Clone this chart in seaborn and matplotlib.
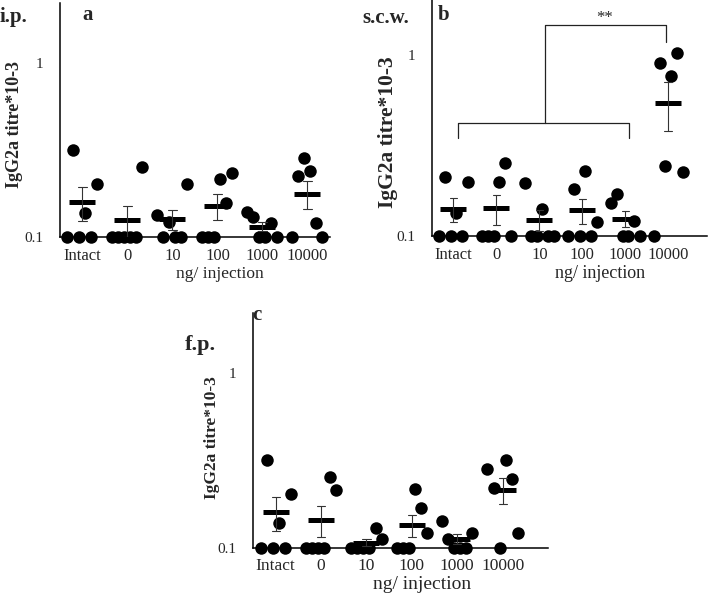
import matplotlib
matplotlib.use("Agg")
import matplotlib.pyplot as plt
import pandas as pd
import seaborn as sns
from matplotlib.ticker import NullLocator

doses = ["Intact", "0", "10", "100", "1000", "10000"]

# titre per mouse, listed in the left-to-right order of the dots
ip_titres = [
    [0.1, 0.316, 0.1, 0.137, 0.1, 0.202],
    [0.1, 0.1, 0.1, 0.1, 0.1, 0.252],
    [0.133, 0.1, 0.122, 0.1, 0.1, 0.202],
    [0.1, 0.1, 0.1, 0.215, 0.157, 0.233],
    [0.139, 0.130, 0.1, 0.1, 0.120, 0.1],
    [0.1, 0.224, 0.284, 0.239, 0.120, 0.1],
]
scw_titres = [
    [0.1, 0.212, 0.1, 0.134, 0.1, 0.199],
    [0.1, 0.1, 0.1, 0.199, 0.253, 0.1],
    [0.196, 0.1, 0.1, 0.141, 0.1, 0.1],
    [0.1, 0.182, 0.1, 0.229, 0.1, 0.120],
    [0.152, 0.171, 0.1, 0.1, 0.121, 0.1],
    [0.1, 0.903, 0.244, 0.766, 1.02, 0.226],
]
fp_titres = [
    [0.1, 0.318, 0.1, 0.139, 0.1, 0.204],
    [0.1, 0.1, 0.1, 0.1, 0.254, 0.214],
    [0.1, 0.1, 0.1, 0.1, 0.130, 0.113],
    [0.1, 0.1, 0.1, 0.217, 0.169, 0.122],
    [0.143, 0.113, 0.1, 0.1, 0.1, 0.122],
    [0.283, 0.220, 0.1, 0.318, 0.248, 0.122],
]

# significance bracket in panel b (group 0-1000 vs 10000)
bracket_low = 0.42
bracket_low_tick = 0.348
bracket_high = 1.466
bracket_high_tick = 1.18
bracket_label = "**"


def to_frame(titres):
    rows = []
    for dose, values in zip(doses, titres):
        for i, v in enumerate(values):
            rows.append({"dose": dose, "mouse": i, "titre": v})
    return pd.DataFrame(rows)


def draw_panel(ax, titres, ytop, xright, tick_size, label_size, ylabel_size, ylabel_xy, xlabel_xy, xpad):
    df = to_frame(titres)
    sns.stripplot(data=df, x="dose", y="titre", hue="mouse", order=doses, dodge=True, jitter=False,
                  palette=["black"] * 6, size=9, legend=False, ax=ax, clip_on=False, zorder=4)
    sns.pointplot(data=df, x="dose", y="titre", order=doses, errorbar="se", color="black",
                  markers="_", markersize=19, markeredgewidth=3.6, linestyle="none", capsize=0.18,
                  err_kws={"linewidth": 0.8, "color": "#333333"}, ax=ax, zorder=5)
    # log scale set after plotting so the means stay arithmetic
    ax.set_yscale("log")
    ax.set_ylim(0.1, ytop)
    ax.set_xlim(-0.5, xright)
    ax.set_yticks([0.1, 1])
    ax.set_yticklabels(["0.1", "1"])
    ax.yaxis.set_minor_locator(NullLocator())
    ax.tick_params(length=0)
    ax.tick_params(axis="x", pad=xpad, labelsize=tick_size)
    ax.tick_params(axis="y", pad=12, labelsize=11)
    sns.despine(ax=ax)
    for side in ["left", "bottom"]:
        ax.spines[side].set_linewidth(1.1)
        ax.spines[side].set_color("black")
    ax.set_ylabel("IgG2a titre*10-3", fontsize=ylabel_size, fontweight="bold")
    ax.yaxis.set_label_coords(*ylabel_xy)
    ax.set_xlabel("ng/ injection", fontsize=label_size)
    ax.xaxis.set_label_coords(*xlabel_xy)


sns.set_theme(style="white")
plt.rcParams["font.family"] = ["Liberation Serif", "DejaVu Serif"]

fig = plt.figure(figsize=(7.09, 5.97), dpi=100)
ax_a = fig.add_axes([0.0846, 0.6030, 0.3808, 0.3913])
ax_b = fig.add_axes([0.6093, 0.6047, 0.3879, 0.3945])
ax_c = fig.add_axes([0.3568, 0.0821, 0.4161, 0.3935])

draw_panel(ax_a, ip_titres, 2.2, 5.5, 12, 12.5, 13, (-0.137, 0.48), (0.593, -0.122), 8)
draw_panel(ax_b, scw_titres, 2.0, 5.9, 12, 13, 15.5, (-0.124, 0.44), (0.611, -0.122), 8)
draw_panel(ax_c, fp_titres, 2.2, 6.0, 12.5, 14, 12.5, (-0.112, 0.47), (0.573, -0.118), 7)

# bracket in panel b
kw = dict(color="#222222", linewidth=0.9, clip_on=False)
ax_b.plot([0.1, 0.1, 4.08, 4.08], [bracket_low_tick, bracket_low, bracket_low, bracket_low_tick], **kw)
ax_b.plot([2.13, 2.13, 4.94, 4.94], [bracket_low, bracket_high, bracket_high, bracket_high_tick], **kw)
ax_b.text(3.52, 1.6, bracket_label, ha="center", va="center", fontsize=12)

bold = dict(fontweight="bold", va="center")
fig.text(0.0, 0.9715, "i.p.", ha="left", fontsize=15, **bold)
fig.text(0.124, 0.975, "a", ha="center", fontsize=15, **bold)
fig.text(0.5106, 0.970, "s.c.w.", ha="left", fontsize=15, **bold)
fig.text(0.625, 0.975, "b", ha="center", fontsize=15, **bold)
fig.text(0.261, 0.422, "f.p.", ha="left", fontsize=16, **bold)
fig.text(0.3625, 0.4724, "c", ha="center", fontsize=15, **bold)

fig.savefig("out.png", dpi=100)
